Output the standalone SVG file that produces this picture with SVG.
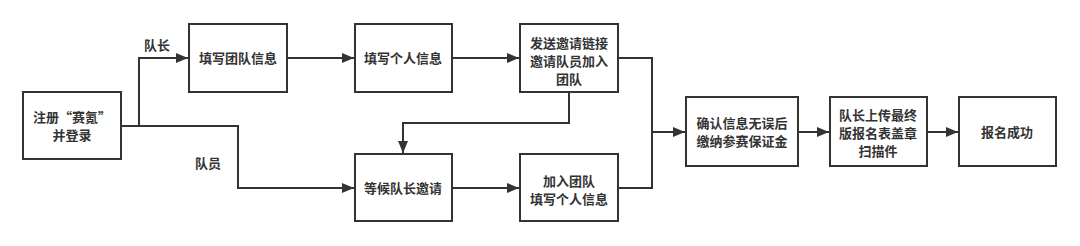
<svg xmlns="http://www.w3.org/2000/svg" width="1080" height="246" viewBox="0 0 1080 246">
<style>
.box{fill:#fff;stroke:#333;stroke-width:2}
.t{font-family:"Noto Sans CJK SC","Noto Sans",sans-serif;font-size:13px;font-weight:bold;fill:#333;text-anchor:middle}
.l{font-family:"Noto Sans CJK SC","Noto Sans",sans-serif;font-size:13px;font-weight:bold;fill:#333}
.c{fill:none;stroke:#333;stroke-width:2}
</style>
<defs>
<marker id="a" viewBox="0 0 12 10" refX="12" refY="5" markerWidth="12" markerHeight="10" markerUnits="userSpaceOnUse" orient="auto">
<path d="M0,0 L12,5 L0,10 Z" fill="#333"/>
</marker>
</defs>
<rect width="1080" height="246" fill="#fff"/>
<g id="connectors">
<path class="c" d="M121,126 H139 V58 H188" marker-end="url(#a)"/>
<path class="c" d="M139,126 H238 V188 H354" marker-end="url(#a)"/>
<path class="c" d="M287,58 H354" marker-end="url(#a)"/>
<path class="c" d="M452,58 H519" marker-end="url(#a)"/>
<path class="c" d="M569,92 V123 H403 V153" marker-end="url(#a)"/>
<path class="c" d="M452,188 H519" marker-end="url(#a)"/>
<path class="c" d="M618,58 H652 V188 H618"/>
<path class="c" d="M652,132 H685" marker-end="url(#a)"/>
<path class="c" d="M798,132 H829" marker-end="url(#a)"/>
<path class="c" d="M927,132 H958" marker-end="url(#a)"/>
<text class="l" x="144" y="50">队长</text>
<text class="l" x="195" y="168">队员</text>
</g>
<g id="n1"><rect class="box" x="23" y="92" width="98" height="67"/><text class="t" x="72" y="122">注册“赛氪”</text><text class="t" x="72" y="140">并登录</text></g>
<g id="n2"><rect class="box" x="189" y="24" width="98" height="68"/><text class="t" x="238" y="63">填写团队信息</text></g>
<g id="n3"><rect class="box" x="355" y="24" width="97" height="68"/><text class="t" x="403" y="63">填写个人信息</text></g>
<g id="n4"><rect class="box" x="520" y="24" width="98" height="68"/><text class="t" x="569" y="48">发送邀请链接</text><text class="t" x="569" y="66">邀请队员加入</text><text class="t" x="569" y="84">团队</text></g>
<g id="n5"><rect class="box" x="355" y="154" width="97" height="67"/><text class="t" x="403" y="193">等候队长邀请</text></g>
<g id="n6"><rect class="box" x="520" y="154" width="98" height="67"/><text class="t" x="569" y="186">加入团队</text><text class="t" x="569" y="204">填写个人信息</text></g>
<g id="n7"><rect class="box" x="686" y="97" width="112" height="69"/><text class="t" x="742" y="128">确认信息无误后</text><text class="t" x="742" y="146">缴纳参赛保证金</text></g>
<g id="n8"><rect class="box" x="830" y="97" width="97" height="69"/><text class="t" x="878" y="120">队长上传最终</text><text class="t" x="878" y="138">版报名表盖章</text><text class="t" x="878" y="156">扫描件</text></g>
<g id="n9"><rect class="box" x="959" y="97" width="97" height="69"/><text class="t" x="1007" y="137">报名成功</text></g>
</svg>
